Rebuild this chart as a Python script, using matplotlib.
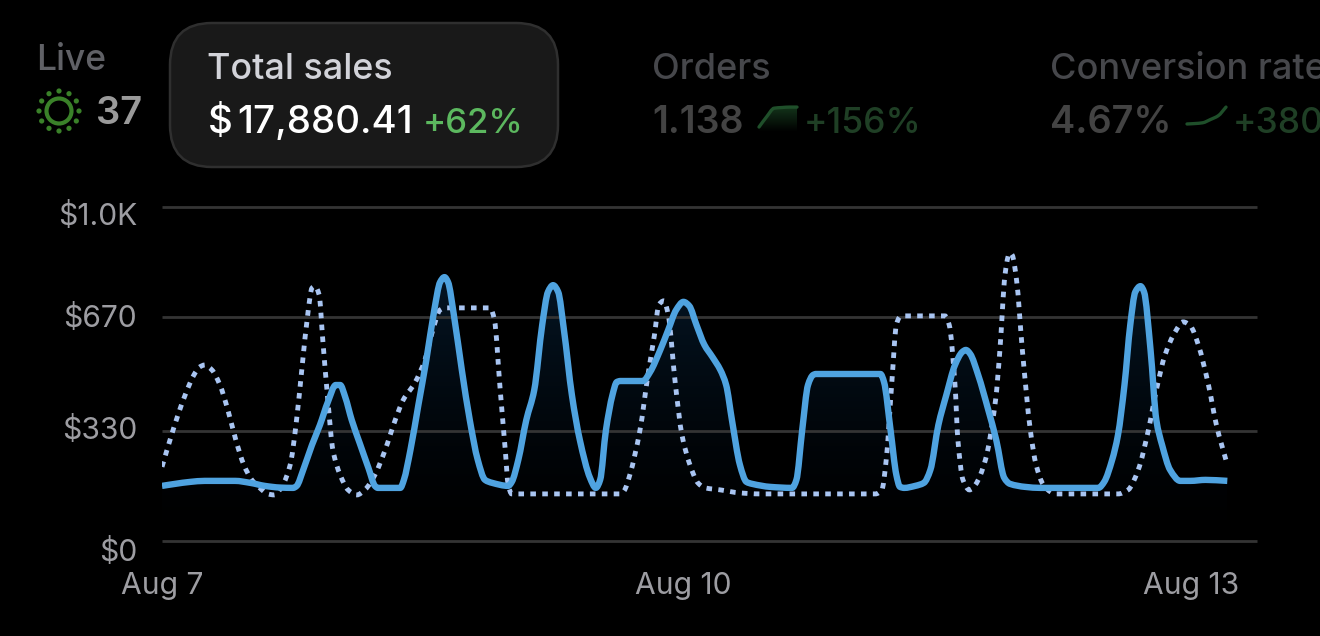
import numpy as np
import matplotlib
matplotlib.use('Agg')
import matplotlib.pyplot as plt
from matplotlib.colors import LinearSegmentedColormap
from matplotlib.patches import FancyBboxPatch, PathPatch, Circle
from matplotlib.path import Path
from matplotlib.transforms import ScaledTranslation

plt.rcParams['font.family'] = ['Inter', 'DejaVu Sans']

# Hours since Aug 7 00:00 and sales in dollars
horas_actual = [0, 1.8, 3.9, 5.9, 10.1, 12.2, 14.2, 16.3, 18.1, 18.6, 19.5, 20.7, 21.8, 22.9, 24.0, 24.6,
                25.3, 26.2, 27.3, 28.5, 29.4, 29.8, 32.9, 33.4, 34.3, 35.4, 36.5, 37.6, 38.4, 39.0, 39.5,
                40.3, 41.4, 42.5, 43.6, 44.6, 45.6, 47.8, 48.3, 49.2, 50.3, 51.4, 52.5, 53.3, 54.0, 54.7,
                55.5, 56.6, 57.7, 59.1, 59.9, 60.5, 61.3, 62.2, 62.8, 63.3, 66.4, 67.4, 68.8, 69.9, 71.0,
                72.0, 72.8, 73.8, 74.9, 76.0, 77.1, 77.9, 78.7, 79.8, 80.7, 81.5, 84.0, 87.0, 87.6, 88.4,
                89.2, 89.9, 90.3, 99.2, 99.7, 100.6, 101.4, 101.9, 102.5, 104.0, 105.2, 106.1, 107.2, 108.3,
                109.5, 110.5, 111.0, 111.6, 112.7, 114.1, 115.2, 116.3, 117.1, 119.2, 121.3, 129.3, 130.1,
                131.2, 132.0, 132.9, 133.7, 134.4, 135.1, 135.6, 136.5, 137.3, 138.1, 139.2, 140.6, 142.0,
                144.1, 147.1]
ventas_actual = [165, 171, 177, 180, 180, 174, 165, 160, 159, 165, 213, 287, 347, 416, 467, 467,
                 431, 362, 293, 219, 165, 159, 159, 183, 272, 407, 542, 692, 775, 790, 775,
                 677, 512, 362, 243, 183, 174, 165, 177, 243, 362, 452, 647, 746, 766, 746,
                 632, 437, 302, 189, 159, 183, 332, 437, 476, 479, 479, 506, 572, 632, 692,
                 716, 704, 647, 587, 551, 512, 467, 362, 228, 177, 171, 162, 159, 183, 332,
                 467, 497, 500, 500, 476, 332, 198, 162, 159, 165, 174, 213, 347, 437,
                 527, 566, 572, 560, 497, 392, 302, 189, 171, 162, 159, 159, 177,
                 243, 317, 467, 647, 746, 763, 746, 572, 362, 287, 213, 180, 180,
                 183, 180]

horas_previo = [0, 1.1, 2.2, 3.3, 4.4, 5.2, 5.9, 6.9, 8.0, 9.1, 10.2, 11.3, 12.4, 13.5, 14.6, 15.5,
                16.6, 17.7, 18.5, 19.3, 20.2, 20.7, 21.1, 21.7, 22.2, 22.9, 23.6, 24.6, 25.7, 26.9, 28.0,
                29.4, 30.8, 32.2, 33.3, 34.9, 36.3, 37.4, 38.4, 39.2, 45.3, 45.9, 46.7, 47.4, 47.8, 48.3,
                63.3, 63.8, 64.6, 66.0, 67.1, 68.0, 68.6, 69.3, 69.9, 70.9, 71.8, 72.9, 74.0, 75.0, 77.1,
                79.8, 82.6, 98.5, 99.4, 100.0, 100.8, 101.4, 101.9, 102.6, 108.1, 108.7, 109.5, 109.9, 110.6,
                111.5, 112.3, 113.7, 115.1, 115.7, 116.4, 116.9, 117.1, 117.4, 118.0, 118.8, 119.9, 120.7,
                121.7, 122.7, 123.3, 132.0, 133.4, 134.8, 136.2, 137.3, 138.5, 139.9, 141.0, 142.0, 143.1,
                144.5, 145.6, 147.1]
ventas_previo = [222, 302, 377, 443, 497, 521, 527, 512, 467, 392, 302, 228, 183, 159, 141, 138,
                 165, 228, 347, 512, 692, 757, 763, 737, 602, 422, 272, 198, 153, 138, 153,
                 198, 272, 362, 422, 473, 542, 632, 692, 698, 698, 662, 452, 272, 168, 141,
                 141, 150, 198, 332, 497, 617, 707, 719, 677, 467, 317, 228, 174, 159, 153,
                 144, 141, 141, 153, 243, 482, 647, 671, 674, 674, 647, 467, 302, 183,
                 153, 168, 243, 422, 572, 796, 856, 862, 856, 781, 572, 332, 228,
                 168, 147, 141, 141, 153, 213, 332, 452, 557, 626, 656, 644, 587,
                 467, 347, 228]

ticks_y = [0, 330, 670, 1000]
etiquetas_y = ['$0', '$330', '$670', '$1.0K']
ticks_x = [0, 72, 144]
etiquetas_x = ['Aug 7', 'Aug 10', 'Aug 13']

orders_spark = [4.6, 14, 22, 22.6, 23, 23]
conversion_spark = [7.4, 7.8, 8.5, 11.5, 15, 23]


def curva(xs, ys):
    # Bezier segments through the read points, tangents keep each stretch monotone
    xs, ys = np.asarray(xs, float), np.asarray(ys, float)
    h = np.diff(xs)
    d = np.diff(ys) / h
    m = np.zeros(len(xs))
    m[0], m[-1] = d[0], d[-1]
    for i in range(1, len(xs) - 1):
        if d[i - 1] * d[i] > 0:
            m[i] = 2 * d[i - 1] * d[i] / (d[i - 1] + d[i])
    verts = [(xs[0], ys[0])]
    codes = [Path.MOVETO]
    for i in range(len(h)):
        verts += [(xs[i] + h[i] / 3, ys[i] + m[i] * h[i] / 3),
                  (xs[i + 1] - h[i] / 3, ys[i + 1] - m[i + 1] * h[i] / 3),
                  (xs[i + 1], ys[i + 1])]
        codes += [Path.CURVE4] * 3
    return verts, codes


fig = plt.figure(figsize=(13.2, 6.36), dpi=100, facecolor='black')
W, H = 1320, 636

# Main chart
ax = fig.add_axes([162 / W, 1 - 541 / H, (1257 - 162) / W, (541 - 207) / H], facecolor='black')
ax.set_xlim(0, 151.2)
ax.set_ylim(0, 1000)
for s in ax.spines.values():
    s.set_visible(False)
ax.set_yticks(ticks_y, etiquetas_y)
ax.set_xticks(ticks_x, etiquetas_x)
ax.grid(axis='y', color='#343434', lw=2.0, clip_on=False, solid_capstyle='butt')
ax.set_axisbelow('line')
ax.tick_params(length=0, colors='#9d9da2', labelsize=21.6)
ax.tick_params(axis='y', pad=18)
ax.tick_params(axis='x', pad=22)

# Labels at the edges sit off their gridlines / ticks in the original
for t, dy in zip(ax.get_yticklabels(), [-8, 3, 2, -7]):
    t.set_transform(t.get_transform() + ScaledTranslation(0, dy / 100, fig.dpi_scale_trans))
ultima = ax.get_xticklabels()[2]
ultima.set_transform(ultima.get_transform() + ScaledTranslation(-14 / 100, 0, fig.dpi_scale_trans))

# Gradient under the current line
cmap = LinearSegmentedColormap.from_list('relleno', ['#000000', '#05192b'])
grad = ax.imshow(np.linspace(1, 0, 256).reshape(-1, 1) ** 1.4, extent=[0, 147.1, 0, 1000], aspect='auto',
                 cmap=cmap, vmin=0, vmax=0.85, zorder=1)
v, c = curva(horas_actual, ventas_actual)
contorno = PathPatch(Path(v + [(147.1, 0), (0, 0), (0, 0)], c + [Path.LINETO, Path.LINETO, Path.CLOSEPOLY]),
                     fc='none', ec='none')
ax.add_patch(contorno)
grad.set_clip_path(contorno)
ax.set_xlim(0, 151.2)
ax.set_ylim(0, 1000)

v, c = curva(horas_previo, ventas_previo)
ax.add_patch(PathPatch(Path(v, c), fc='none', ec='#a9c5f2', lw=3.5, ls=(0, (1.15, 1.3)), capstyle='butt', zorder=3))
v, c = curva(horas_actual, ventas_actual)
ax.add_patch(PathPatch(Path(v, c), fc='none', ec='#4fa3e0', lw=4.6, joinstyle='round', capstyle='butt', zorder=4))

# Header drawn in pixel coordinates
top = fig.add_axes([0, 0, 1, 1], facecolor='none')
top.set_xlim(0, W)
top.set_ylim(H, 0)
top.axis('off')

top.add_patch(FancyBboxPatch((170 + 42, 23 + 42), 388 - 84, 144 - 84, boxstyle='round,pad=42',
                             fc='#191919', ec='#2f2f2f', lw=1.8))

top.text(36, 70, 'Live', color='#606166', fontsize=25.5, fontweight='medium', va='baseline')
top.text(96, 124, '37', color='#9a9a9a', fontsize=27.5, fontweight='semibold', va='baseline')
top.add_patch(Circle((59, 111), 12.5, fc='none', ec='#3a8129', lw=3))
for ang in np.arange(0, 360, 30):
    top.add_patch(Circle((59 + 20 * np.cos(np.radians(ang)), 111 + 20 * np.sin(np.radians(ang))), 2.6,
                         fc='#3a8129', ec='none'))

top.text(207, 79, 'Total sales', color='#d2d3d9', fontsize=25.8, fontweight='medium', va='baseline')
top.text(208, 133, '$', color='white', fontsize=27.7, fontweight='medium', va='baseline')
top.text(237, 133, '17,880.41', color='white', fontsize=27.7, fontweight='medium', va='baseline')
top.text(423, 133, '+62%', color='#5cb85f', fontsize=25, fontweight='medium', va='baseline')

top.text(652, 79, 'Orders', color='#46474b', fontsize=26, fontweight='medium', va='baseline')
top.text(652, 133, '1.138', color='#434343', fontsize=27, fontweight='semibold', va='baseline')
top.text(804, 133, '+156%', color='#1f3f25', fontsize=25.5, fontweight='medium', va='baseline')

top.text(1050, 79, 'Conversion rate', color='#46474b', fontsize=26, fontweight='medium', va='baseline')
top.text(1050, 133, '4.67%', color='#434343', fontsize=27.3, fontweight='semibold', va='baseline')
top.text(1233, 133, '+380%', color='#1f3f25', fontsize=25.5, fontweight='medium', va='baseline')


def sparkline(x0, x1, y0, y1, valores, relleno):
    s = fig.add_axes([x0 / W, 1 - y1 / H, (x1 - x0) / W, (y1 - y0) / H], facecolor='none')
    s.axis('off')
    xs = np.arange(len(valores))
    s.set_xlim(0, len(valores) - 1)
    s.set_ylim(0, 24)
    if relleno:
        g = s.imshow(np.linspace(1, 0, 64).reshape(-1, 1), extent=[0, len(valores) - 1, 0, 24], aspect='auto',
                     cmap=LinearSegmentedColormap.from_list('g', ['#000000', '#14351b']), zorder=1)
        v, c = curva(xs, valores)
        borde = PathPatch(Path(v + [(xs[-1], 0), (0, 0), (0, 0)], c + [Path.LINETO, Path.LINETO, Path.CLOSEPOLY]),
                          fc='none', ec='none')
        s.add_patch(borde)
        g.set_clip_path(borde)
    v, c = curva(xs, valores)
    s.add_patch(PathPatch(Path(v, c), fc='none', ec='#1f4f2a', lw=2.4, capstyle='round', clip_on=False, zorder=2))


sparkline(759, 797, 106, 132, orders_spark, True)
sparkline(1187, 1226, 106, 132, conversion_spark, False)

fig.savefig('out.png', dpi=100, facecolor='black')
